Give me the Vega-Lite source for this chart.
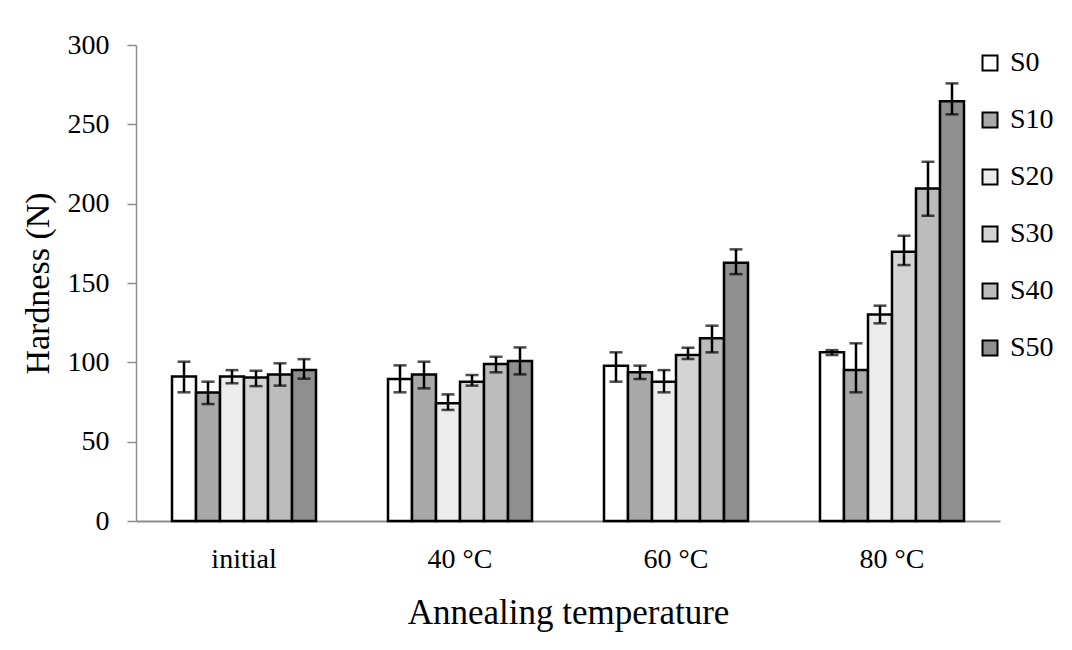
{
  "$schema": "https://vega.github.io/schema/vega-lite/v6.json",
  "autosize": "none",
  "width": 864,
  "height": 476,
  "padding": {"left": 136, "top": 45, "right": 72, "bottom": 129},
  "background": "white",
  "config": {
    "view": {"stroke": null},
    "font": "Liberation Serif",
    "axis": {"labelFont": "Liberation Serif", "titleFont": "Liberation Serif", "labelColor": "#000000", "titleColor": "#000000", "titleFontWeight": "normal", "grid": false},
    "axisY": {"labelFontSize": 28, "labelPadding": 18, "tickSize": 9, "tickColor": "#8c8c8c", "domainColor": "#8c8c8c", "domainWidth": 1.5, "tickWidth": 1.5, "titleFontSize": 34, "titlePadding": 12},
    "legend": {"labelFont": "Liberation Serif", "labelFontSize": 28, "labelColor": "#000000"}
  },
  "data": {
    "values": [
      {"temp": "initial", "sample": "S0", "value": 91, "lo": 81.1, "hi": 100.4},
      {"temp": "initial", "sample": "S10", "value": 81, "lo": 73.7, "hi": 87.8},
      {"temp": "initial", "sample": "S20", "value": 91, "lo": 86.8, "hi": 95.1},
      {"temp": "initial", "sample": "S30", "value": 90.5, "lo": 85, "hi": 94.7},
      {"temp": "initial", "sample": "S40", "value": 92.4, "lo": 85.3, "hi": 99.4},
      {"temp": "initial", "sample": "S50", "value": 95.1, "lo": 89.7, "hi": 102},
      {"temp": "40 °C", "sample": "S0", "value": 89.5, "lo": 81.1, "hi": 98.1},
      {"temp": "40 °C", "sample": "S10", "value": 92.4, "lo": 83.6, "hi": 100.4},
      {"temp": "40 °C", "sample": "S20", "value": 74.2, "lo": 70, "hi": 79.8},
      {"temp": "40 °C", "sample": "S30", "value": 87.8, "lo": 85.3, "hi": 92},
      {"temp": "40 °C", "sample": "S40", "value": 98.9, "lo": 93.7, "hi": 103.5},
      {"temp": "40 °C", "sample": "S50", "value": 100.8, "lo": 92.4, "hi": 109.4},
      {"temp": "60 °C", "sample": "S0", "value": 97.9, "lo": 87.8, "hi": 106.3},
      {"temp": "60 °C", "sample": "S10", "value": 93.7, "lo": 89.5, "hi": 97.9},
      {"temp": "60 °C", "sample": "S20", "value": 87.8, "lo": 81.1, "hi": 95.1},
      {"temp": "60 °C", "sample": "S30", "value": 104.6, "lo": 102.1, "hi": 109.2},
      {"temp": "60 °C", "sample": "S40", "value": 115.1, "lo": 106.3, "hi": 123.1},
      {"temp": "60 °C", "sample": "S50", "value": 162.8, "lo": 155.6, "hi": 171.2},
      {"temp": "80 °C", "sample": "S0", "value": 106.3, "lo": 104.6, "hi": 107.7},
      {"temp": "80 °C", "sample": "S10", "value": 95.1, "lo": 81.1, "hi": 112},
      {"temp": "80 °C", "sample": "S20", "value": 130.2, "lo": 124.6, "hi": 135.7},
      {"temp": "80 °C", "sample": "S30", "value": 169.7, "lo": 161.3, "hi": 179.8},
      {"temp": "80 °C", "sample": "S40", "value": 209.6, "lo": 192.4, "hi": 226.4},
      {"temp": "80 °C", "sample": "S50", "value": 264.6, "lo": 256.3, "hi": 275.8}
    ]
  },
  "encoding": {
    "x": {
      "field": "temp", "type": "nominal", "sort": ["initial", "40 °C", "60 °C", "80 °C"],
      "scale": {"paddingInner": 0.3333, "paddingOuter": 0.1667},
      "axis": {"title": "Annealing temperature", "titleFontSize": 35, "titlePadding": 22, "labelFontSize": 28, "labelAngle": 0, "labelPadding": 24, "ticks": false, "domainColor": "#8c8c8c", "domainWidth": 2}
    },
    "xOffset": {"field": "sample", "type": "nominal", "sort": ["S0", "S10", "S20", "S30", "S40", "S50"], "scale": {"paddingInner": 0, "paddingOuter": 0}}
  },
  "layer": [
    {
      "mark": {"type": "bar", "stroke": "#000000", "strokeWidth": 2.5, "opacity": 1},
      "encoding": {
        "y": {
          "field": "value", "type": "quantitative",
          "scale": {"domain": [0, 300], "nice": false},
          "axis": {"title": "Hardness (N)", "values": [0, 50, 100, 150, 200, 250, 300], "labelOverlap": false}
        },
        "fill": {
          "field": "sample", "type": "nominal", "sort": ["S0", "S10", "S20", "S30", "S40", "S50"],
          "scale": {"range": ["#ffffff", "#a9a9a9", "#ececec", "#d4d4d4", "#bcbcbc", "#8f8f8f"]},
          "legend": {"title": null, "orient": "none", "legendX": 840, "legendY": 4, "labelFontSize": 28, "labelFont": "Liberation Serif", "labelColor": "#000000", "symbolType": "square", "symbolSize": 225, "symbolStrokeColor": "#000000", "symbolStrokeWidth": 2, "rowPadding": 29, "labelOffset": 6}
        }
      }
    },
    {
      "mark": {"type": "rule", "color": "#000000", "strokeWidth": 2.5},
      "encoding": {
        "y": {"field": "lo", "type": "quantitative", "axis": {"title": "Hardness (N)", "values": [0, 50, 100, 150, 200, 250, 300], "labelOverlap": false}},
        "y2": {"field": "hi"}
      }
    },
    {
      "mark": {"type": "tick", "color": "#000000", "thickness": 2.5, "size": 13},
      "encoding": {"y": {"field": "lo", "type": "quantitative", "axis": {"title": "Hardness (N)", "values": [0, 50, 100, 150, 200, 250, 300], "labelOverlap": false}}}
    },
    {
      "mark": {"type": "tick", "color": "#000000", "thickness": 2.5, "size": 13},
      "encoding": {"y": {"field": "hi", "type": "quantitative", "axis": {"title": "Hardness (N)", "values": [0, 50, 100, 150, 200, 250, 300], "labelOverlap": false}}}
    }
  ]
}
